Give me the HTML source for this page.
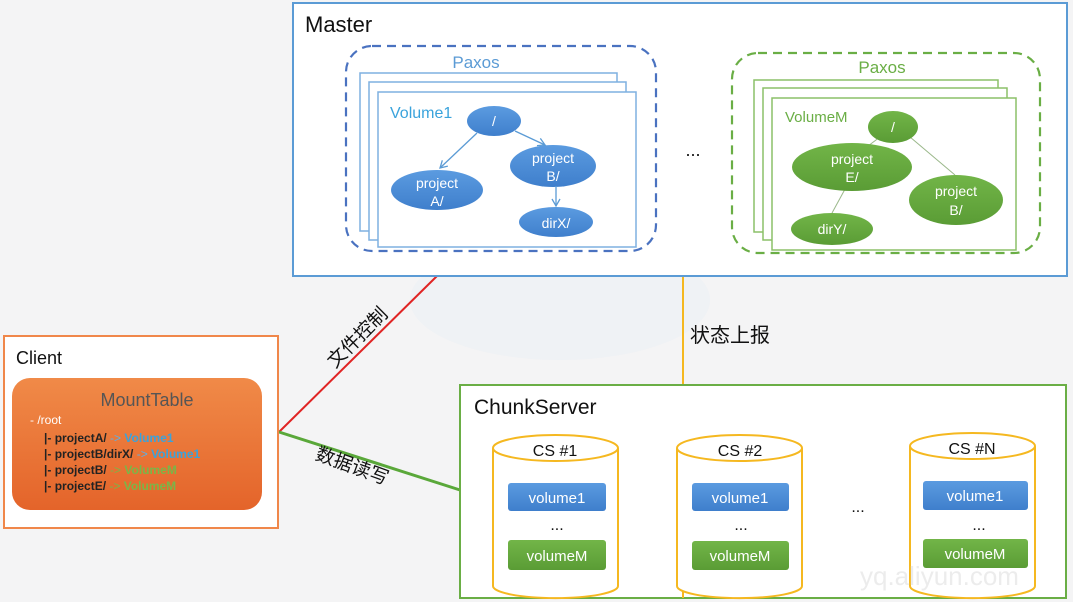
<!DOCTYPE html>
<html><head><meta charset="utf-8"><style>
html,body{margin:0;padding:0;background:#f4f4f4;}
svg{display:block;}
text{font-family:"Liberation Sans","Noto Sans CJK SC",sans-serif;}
</style></head><body>
<svg width="1073" height="602" viewBox="0 0 1073 602" xmlns="http://www.w3.org/2000/svg">
<defs>
<linearGradient id="og" x1="0" y1="0" x2="0" y2="1"><stop offset="0" stop-color="#f08a48"/><stop offset="1" stop-color="#e4642a"/></linearGradient>
<linearGradient id="bg" x1="0" y1="0" x2="0" y2="1"><stop offset="0" stop-color="#5b9be0"/><stop offset="1" stop-color="#3f7fcc"/></linearGradient>
<linearGradient id="gg" x1="0" y1="0" x2="0" y2="1"><stop offset="0" stop-color="#72b548"/><stop offset="1" stop-color="#5a9c35"/></linearGradient>
<marker id="ar" markerWidth="10" markerHeight="10" refX="8" refY="5" orient="auto" markerUnits="userSpaceOnUse"><path d="M1 1 L8 5 L1 9" fill="none" stroke="#5b9bd5" stroke-width="1.3"/></marker>
</defs>
<rect width="1073" height="602" fill="#f4f4f5"/>
<ellipse cx="560" cy="300" rx="150" ry="60" fill="#eaeff5" opacity="0.5"/>

<!-- connectors -->
<line x1="279" y1="432" x2="437" y2="276" stroke="#e02424" stroke-width="2"/>
<line x1="279" y1="432" x2="460" y2="490" stroke="#5aa83a" stroke-width="3"/>
<line x1="683" y1="276" x2="683" y2="386" stroke="#f5b820" stroke-width="2"/>
<text transform="translate(362,342) rotate(-45)" font-size="19" text-anchor="middle" fill="#111">文件控制</text>
<text transform="translate(350,472) rotate(20)" font-size="19" text-anchor="middle" fill="#111">数据读写</text>
<text x="690" y="342" font-size="20" fill="#111">状态上报</text>

<!-- Master -->
<rect x="293" y="3" width="774" height="273" fill="#fff" stroke="#5b9bd5" stroke-width="2"/>
<text x="305" y="32" font-size="22" fill="#111">Master</text>
<rect x="346" y="46" width="310" height="205" rx="26" fill="none" stroke="#4a72c0" stroke-width="2.2" stroke-dasharray="9,6"/>
<text x="476" y="68" font-size="17" fill="#5b9bd5" text-anchor="middle">Paxos</text>
<rect x="360" y="73" width="257" height="158" fill="#fff" stroke="#7fb0e0" stroke-width="1.5"/>
<rect x="369" y="82" width="257" height="158" fill="#fff" stroke="#7fb0e0" stroke-width="1.5"/>
<rect x="378" y="92" width="258" height="155" fill="#fff" stroke="#7fb0e0" stroke-width="1.5"/>
<text x="390" y="118" font-size="16" fill="#3aa3dc">Volume1</text>
<ellipse cx="494" cy="121" rx="27" ry="15" fill="url(#bg)"/>
<ellipse cx="553" cy="166" rx="43" ry="21" fill="url(#bg)"/>
<ellipse cx="437" cy="190" rx="46" ry="20" fill="url(#bg)"/>
<ellipse cx="556" cy="222" rx="37" ry="15" fill="url(#bg)"/>
<line x1="477" y1="133" x2="440" y2="168" stroke="#5b9bd5" stroke-width="1.3" marker-end="url(#ar)"/>
<line x1="515" y1="131" x2="545" y2="145" stroke="#5b9bd5" stroke-width="1.3" marker-end="url(#ar)"/>
<line x1="556" y1="186" x2="556" y2="206" stroke="#5b9bd5" stroke-width="1.3" marker-end="url(#ar)"/>
<g fill="#fff" font-size="14" text-anchor="middle">
<text x="494" y="126">/</text>
<text x="553" y="163">project</text><text x="553" y="181">B/</text>
<text x="437" y="188">project</text><text x="437" y="206">A/</text>
<text x="556" y="228">dirX/</text>
</g>
<text x="693" y="156" font-size="18" fill="#111" text-anchor="middle">...</text>

<rect x="732" y="53" width="308" height="200" rx="26" fill="none" stroke="#6aae45" stroke-width="2.2" stroke-dasharray="9,6"/>
<text x="882" y="73" font-size="17" fill="#6aae45" text-anchor="middle">Paxos</text>
<rect x="754" y="80" width="244" height="152" fill="#fff" stroke="#8cc068" stroke-width="1.5"/>
<rect x="763" y="88" width="244" height="152" fill="#fff" stroke="#8cc068" stroke-width="1.5"/>
<rect x="772" y="98" width="244" height="152" fill="#fff" stroke="#8cc068" stroke-width="1.5"/>
<text x="785" y="122" font-size="15" fill="#6aae45">VolumeM</text>
<line x1="880" y1="137" x2="860" y2="152" stroke="#9ab88a" stroke-width="1"/>
<line x1="910" y1="137" x2="955" y2="175" stroke="#9ab88a" stroke-width="1"/>
<line x1="850" y1="180" x2="832" y2="213" stroke="#9ab88a" stroke-width="1"/>
<ellipse cx="893" cy="127" rx="25" ry="16" fill="url(#gg)"/>
<ellipse cx="852" cy="167" rx="60" ry="24" fill="url(#gg)"/>
<ellipse cx="956" cy="200" rx="47" ry="25" fill="url(#gg)"/>
<ellipse cx="832" cy="229" rx="41" ry="16" fill="url(#gg)"/>
<g fill="#fff" font-size="14" text-anchor="middle">
<text x="893" y="132">/</text>
<text x="852" y="164">project</text><text x="852" y="182">E/</text>
<text x="956" y="196">project</text><text x="956" y="215">B/</text>
<text x="832" y="234">dirY/</text>
</g>

<!-- Client -->
<rect x="4" y="336" width="274" height="192" fill="#fff" stroke="#f0874a" stroke-width="2"/>
<text x="16" y="364" font-size="18" fill="#111">Client</text>
<rect x="12" y="378" width="250" height="132" rx="18" fill="url(#og)"/>
<text x="147" y="406" font-size="18" fill="#555" text-anchor="middle">MountTable</text>
<g font-size="12" font-weight="bold">
<text x="30" y="424" fill="#fff" font-weight="normal">- /root</text>
<text x="44" y="442" fill="#222">|- projectA/ <tspan fill="#5bb0e8" font-weight="normal">-&gt;</tspan> <tspan fill="#3aa3dc">Volume1</tspan></text>
<text x="44" y="458" fill="#222">|- projectB/dirX/ <tspan fill="#5bb0e8" font-weight="normal">-&gt;</tspan> <tspan fill="#3aa3dc">Volume1</tspan></text>
<text x="44" y="474" fill="#222">|- projectB/ <tspan fill="#7ab648" font-weight="normal">-&gt;</tspan> <tspan fill="#7ab648">VolumeM</tspan></text>
<text x="44" y="490" fill="#222">|- projectE/ <tspan fill="#7ab648" font-weight="normal">-&gt;</tspan> <tspan fill="#7ab648">VolumeM</tspan></text>
</g>

<!-- ChunkServer -->
<rect x="460" y="385" width="606" height="213" fill="#fff" stroke="#6aae45" stroke-width="2"/>
<line x1="683" y1="560" x2="683" y2="598" stroke="#f5b820" stroke-width="2"/>
<text x="474" y="414" font-size="21" fill="#111">ChunkServer</text>
<g stroke="#f5b820" stroke-width="2" fill="#fff">
<path d="M493 448 V586 A62 12 0 0 0 618 586 V448"/><ellipse cx="555.5" cy="448" rx="62.5" ry="13"/>
<path d="M677 448 V586 A62 12 0 0 0 802 586 V448"/><ellipse cx="739.5" cy="448" rx="62.5" ry="13"/>
<path d="M910 446 V586 A62 12 0 0 0 1035 586 V446"/><ellipse cx="972.5" cy="446" rx="62.5" ry="13"/>
</g>
<g font-size="16" fill="#111" text-anchor="middle">
<text x="555" y="456">CS #1</text><text x="740" y="456">CS #2</text><text x="972" y="454">CS #N</text>
</g>
<g>
<rect x="508" y="483" width="98" height="28" rx="3" fill="url(#bg)"/>
<rect x="508" y="540" width="98" height="30" rx="3" fill="url(#gg)"/>
<rect x="692" y="483" width="97" height="28" rx="3" fill="url(#bg)"/>
<rect x="692" y="541" width="97" height="29" rx="3" fill="url(#gg)"/>
<rect x="923" y="481" width="105" height="29" rx="3" fill="url(#bg)"/>
<rect x="923" y="539" width="105" height="29" rx="3" fill="url(#gg)"/>
</g>
<g font-size="15" fill="#fff" text-anchor="middle">
<text x="557" y="503">volume1</text><text x="557" y="561">volumeM</text>
<text x="740" y="503">volume1</text><text x="740" y="561">volumeM</text>
<text x="975" y="501">volume1</text><text x="975" y="559">volumeM</text>
</g>
<g font-size="16" fill="#111" text-anchor="middle">
<text x="557" y="530">...</text><text x="741" y="530">...</text><text x="979" y="530">...</text><text x="858" y="512">...</text>
</g>
<text x="860" y="585" font-size="26" fill="#e8e8e8" opacity="0.8">yq.aliyun.com</text>
</svg>
</body></html>
